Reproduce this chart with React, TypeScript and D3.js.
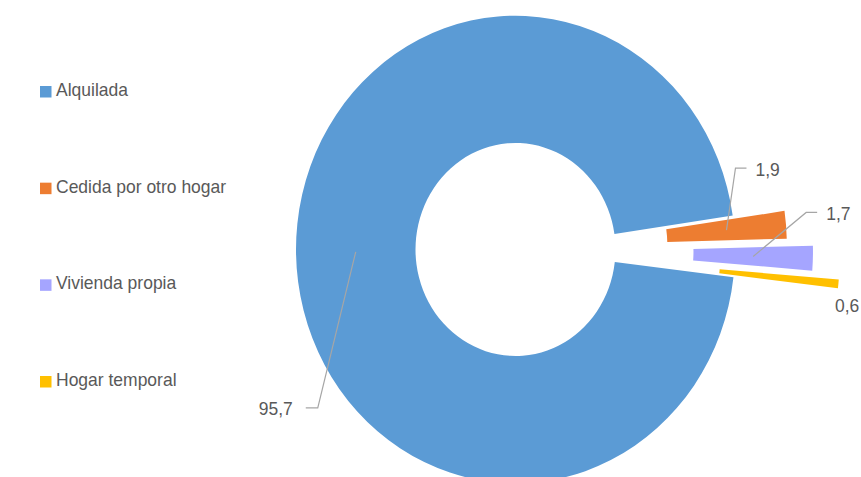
import React from "react";
import * as d3 from "d3";

// ---- data ----
const categories = ["Alquilada", "Cedida por otro hogar", "Vivienda propia", "Hogar temporal"];
const values = [95.7, 1.9, 1.7, 0.6];
const valueLabels = ["95,7", "1,9", "1,7", "0,6"];

// ---- styles ----
const colors = ["#5B9BD5", "#ED7D31", "#A5A5FF", "#FFC000"];
const explode = [0, 52, 78, 105];
// offset from slice centroid to leader elbow (null = no leader)
const leaderOffsets: ([number, number] | null)[] = [[-38, 156], [9, -62], [53, -44], null];
const noLeaderOffsets: [number, number][] = [[0, 0], [0, 0], [0, 0], [56, 34]];

const W = 861;
const H = 477;
const SY = 1.065;
const CX = 515.5;
const CY = 249.5;
const R_OUT = 219.5;
const R_IN = 100;
const START_DEG = 96.8;
const FONT = "'Liberation Sans', Arial, Helvetica, sans-serif";
const TEXT = "#595959";
const LEADER = "#A6A6A6";

export default function App() {
  const start = (START_DEG * Math.PI) / 180;
  const pie = d3
    .pie<number>()
    .sort(null)
    .value((d) => d)
    .startAngle(start)
    .endAngle(start + 2 * Math.PI);
  const arcs = pie(values);
  const arcGen = d3.arc<d3.PieArcDatum<number>>().innerRadius(R_IN).outerRadius(R_OUT);

  const legendY = d3.scalePoint<string>().domain(categories).range([91, 381]);

  return (
    <svg
      width={W}
      height={H}
      style={{ position: "absolute", left: 0, top: 0, background: "#fff" }}
      fontFamily={FONT}
    >
      <rect width={W} height={H} fill="#fff" />
      <g transform={`translate(${CX},${CY}) scale(1,${SY})`}>
        {arcs.map((a, i) => {
          const mid = (a.startAngle + a.endAngle) / 2;
          const dx = explode[i] * Math.sin(mid);
          const dy = -explode[i] * Math.cos(mid);
          return (
            <path
              key={i}
              d={arcGen(a) || ""}
              transform={`translate(${dx},${dy})`}
              fill={colors[i]}
            />
          );
        })}
      </g>
      {arcs.map((a, i) => {
        const mid = (a.startAngle + a.endAngle) / 2;
        const c = arcGen.centroid(a);
        const px = CX + c[0] + explode[i] * Math.sin(mid);
        const py = CY + (c[1] - explode[i] * Math.cos(mid)) * SY;
        const off = leaderOffsets[i];
        if (off) {
          const ex = px + off[0];
          const ey = py + off[1];
          const right = off[0] >= 0;
          const hx = ex + (right ? 11 : -12);
          const tx = hx + (right ? 9 : -13);
          return (
            <g key={i}>
              <polyline
                points={`${px},${py} ${ex},${ey} ${hx},${ey}`}
                fill="none"
                stroke={LEADER}
                strokeWidth={1.2}
              />
              <text
                transform={`translate(${tx},${ey + 7.5}) scale(1,${SY})`}
                fontSize={17.5}
                fill={TEXT}
                textAnchor={right ? "start" : "end"}
              >
                {valueLabels[i]}
              </text>
            </g>
          );
        }
        const o = noLeaderOffsets[i];
        return (
          <text
            key={i}
            transform={`translate(${px + o[0]},${py + o[1]}) scale(1,${SY})`}
            fontSize={17.5}
            fill={TEXT}
            textAnchor="start"
          >
            {valueLabels[i]}
          </text>
        );
      })}
      {categories.map((cat, i) => {
        const y = legendY(cat) as number;
        return (
          <g key={cat}>
            <rect x={40} y={y - 5} width={11.5} height={11.5} fill={colors[i]} />
            <text
              transform={`translate(56,${y + 5}) scale(1,${SY})`}
              fontSize={17.5}
              fill={TEXT}
            >
              {cat}
            </text>
          </g>
        );
      })}
    </svg>
  );
}
